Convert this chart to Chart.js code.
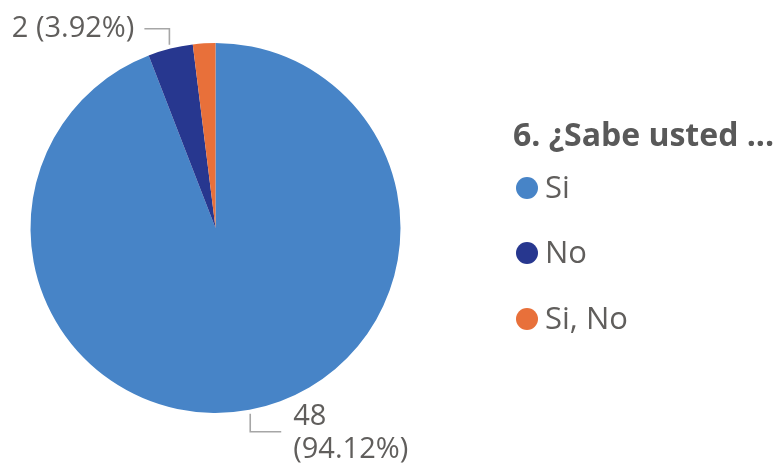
<!DOCTYPE html>
<html>
<head>
<meta charset="utf-8">
<script src="https://cdn.jsdelivr.net/npm/chart.js@4"></script>
<style>
  html, body { margin: 0; padding: 0; background: #ffffff; }
  #wrap { position: relative; width: 781px; height: 470px; }
</style>
</head>
<body>
<div id="wrap"><canvas id="c" width="781" height="470"></canvas></div>
<script>
const legendTitle = "6. ¿Sabe usted ...";
const categories = ["Si", "No", "Si, No"];
const values = [48, 2, 1];
const sliceColors = ["#4784C7", "#27378F", "#E8703A"];
const labelShown = [true, true, false];

const FONT = "'Open Sans', 'Noto Sans', sans-serif";
const TEXT = "#605E5C";

const total = values.reduce((a, b) => a + b, 0);
function pct(v) { return (v / total * 100).toFixed(2) + "%"; }

const overlayPlugin = {
  id: "overlay",
  afterDraw(chart) {
    const ctx = chart.ctx;
    const meta = chart.getDatasetMeta(0);
    ctx.save();
    // data labels with leader lines
    meta.data.forEach((arc, i) => {
      if (!labelShown[i]) return;
      const p = arc.getProps(["x", "y", "startAngle", "endAngle", "outerRadius"], true);
      const mid = (p.startAngle + p.endAngle) / 2;
      const r = p.outerRadius + 4;
      const x0 = p.x + Math.cos(mid) * r;
      const y0 = p.y + Math.sin(mid) * r;
      const up = Math.sin(mid) < 0;
      const left = Math.cos(mid) < 0;
      const vy = up ? y0 - 16 : y0 + 18;
      const hx = left ? x0 - 25 : x0 + 31;
      ctx.strokeStyle = "#A6A6A6";
      ctx.lineWidth = 1.6;
      ctx.beginPath();
      ctx.moveTo(x0, y0);
      ctx.lineTo(x0, vy);
      ctx.lineTo(hx, vy);
      ctx.stroke();
      ctx.fillStyle = TEXT;
      ctx.font = "29px " + FONT;
      ctx.textBaseline = "middle";
      if (left) {
        ctx.textAlign = "right";
        ctx.fillText(values[i] + " (" + pct(values[i]) + ")", hx - 10, vy);
      } else {
        ctx.textAlign = "left";
        ctx.fillText(String(values[i]), hx + 12, vy - 15);
        ctx.fillText("(" + pct(values[i]) + ")", hx + 12, vy + 18);
      }
    });
    // legend
    const lx = 513;
    ctx.textAlign = "left";
    ctx.textBaseline = "alphabetic";
    ctx.fillStyle = "#595959";
    ctx.font = "bold 32px " + FONT;
    ctx.fillText(legendTitle, lx, 146);
    const rowY = [188, 253, 319];
    categories.forEach((c, i) => {
      ctx.beginPath();
      ctx.fillStyle = sliceColors[i];
      ctx.arc(lx + 14, rowY[i], 11, 0, Math.PI * 2);
      ctx.fill();
      ctx.fillStyle = TEXT;
      ctx.font = "31px " + FONT;
      ctx.textBaseline = "middle";
      ctx.fillText(c, lx + 32, rowY[i] + 1);
    });
    ctx.restore();
  }
};

new Chart(document.getElementById("c"), {
  type: "pie",
  data: {
    labels: categories,
    datasets: [{
      data: values,
      backgroundColor: sliceColors,
      borderWidth: 0
    }]
  },
  options: {
    responsive: false,
    animation: false,
    layout: { padding: { left: 30, right: 380, top: 43, bottom: 57 } },
    plugins: {
      legend: { display: false },
      tooltip: { enabled: false }
    }
  },
  plugins: [overlayPlugin]
});
</script>
</body>
</html>
